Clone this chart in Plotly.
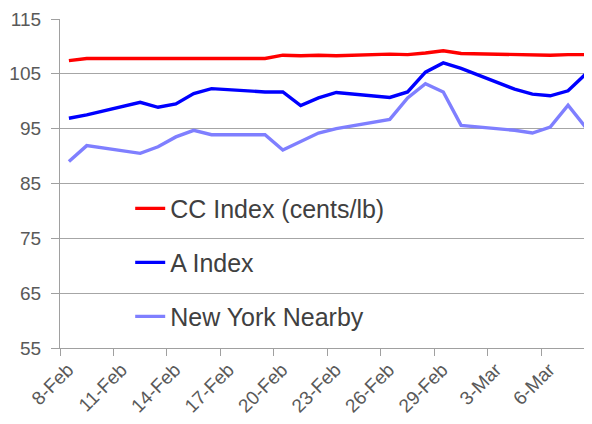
import pandas as pd
import plotly.graph_objects as go

dates = ["2024-02-08", "2024-02-09", "2024-02-12", "2024-02-13", "2024-02-14",
         "2024-02-15", "2024-02-16", "2024-02-19", "2024-02-20", "2024-02-21",
         "2024-02-22", "2024-02-23", "2024-02-26", "2024-02-27", "2024-02-28",
         "2024-02-29", "2024-03-01", "2024-03-04", "2024-03-05", "2024-03-06",
         "2024-03-07", "2024-03-08"]
cc_index = [107.4, 107.8, 107.8, 107.8, 107.8, 107.8, 107.8, 107.8, 108.4, 108.3,
            108.4, 108.3, 108.6, 108.5, 108.8, 109.2, 108.7, 108.5, 108.4, 108.4,
            108.5, 108.5]
a_index = [96.9, 97.5, 99.8, 98.9, 99.5, 101.4, 102.3, 101.7, 101.7, 99.2,
           100.6, 101.6, 100.7, 101.7, 105.3, 107.0, 106.0, 102.2, 101.3, 101.0,
           101.9, 105.0]
ny_nearby = [89.0, 91.9, 90.5, 91.7, 93.5, 94.7, 93.9, 93.9, 91.1, 92.6,
             94.2, 95.0, 96.7, 100.6, 103.2, 101.7, 95.6, 94.7, 94.2, 95.3,
             99.3, 95.2]
tick_dates = ["2024-02-08", "2024-02-11", "2024-02-14", "2024-02-17", "2024-02-20",
              "2024-02-23", "2024-02-26", "2024-02-29", "2024-03-03", "2024-03-06"]
tick_labels = ["8-Feb", "11-Feb", "14-Feb", "17-Feb", "20-Feb", "23-Feb", "26-Feb",
               "29-Feb", "3-Mar", "6-Mar"]

# Excel date axis plots each day's value in the middle of its day band
x = pd.to_datetime(dates) + pd.Timedelta(hours=12)

series = [
    ("CC Index (cents/lb)", cc_index, "#FF0000"),
    ("A Index", a_index, "#0000FF"),
    ("New York Nearby", ny_nearby, "#7F7FFF"),
]

fig = go.Figure()
for i, (name, vals, color) in enumerate(series):
    fig.add_trace(go.Scatter(
        x=x, y=vals, name=name, mode="lines", legendgroup=str(i),
        line=dict(color=color, width=3.4),
    ))

font_family = "Liberation Sans, Arial, sans-serif"
fig.update_layout(
    width=592, height=424,
    margin=dict(l=52, r=0, t=11, b=84),
    plot_bgcolor="white", paper_bgcolor="white",
    font=dict(family=font_family, color="#595959", size=19),
    showlegend=True,
    legend=dict(
        x=0.130, y=0.4935, xanchor="left", yanchor="top",
        bgcolor="rgba(0,0,0,0)", font=dict(size=25, color="#404040"),
        traceorder="grouped", tracegroupgap=18.5,
    ),
    xaxis=dict(
        type="date", automargin=False,
        range=["2024-02-08", "2024-03-09 07:00"],
        tickvals=tick_dates, ticktext=tick_labels, tickangle=-45,
        showgrid=False, showline=True, linecolor="#A0A0A0", linewidth=1.3,
        ticks="outside", ticklen=7, tickcolor="#A0A0A0",
        tickfont=dict(size=19, color="#595959"),
        ticklabelshift=8, ticklabelstandoff=-5,
    ),
    yaxis=dict(
        automargin=False,
        range=[55, 115], tick0=55, dtick=10,
        showgrid=True, gridcolor="#A6A6A6", gridwidth=1.3,
        showline=True, linecolor="#A0A0A0", linewidth=1.3,
        ticks="outside", ticklen=8, tickcolor="#A0A0A0",
        tickfont=dict(size=19, color="#595959"), ticklabelstandoff=6,
        zeroline=False,
    ),
)

fig.write_html("out.html")
